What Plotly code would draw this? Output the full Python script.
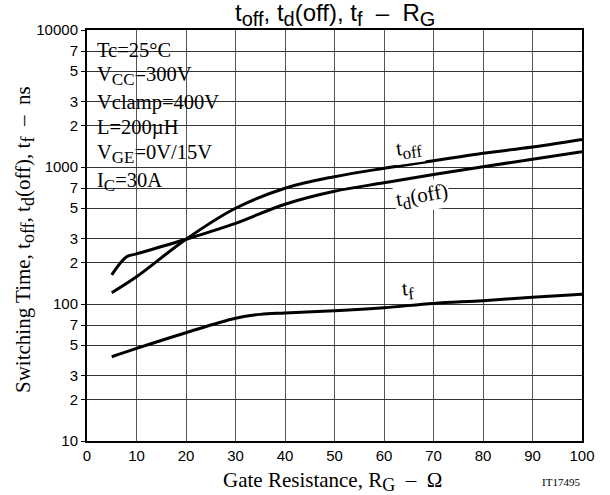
import plotly.graph_objects as go

# ---------------- data ----------------
rg_toff = [5, 10, 20, 30, 40, 50, 60, 70, 80, 90, 100]
toff = [121, 158, 297, 500, 700, 850, 979, 1111, 1260, 1400, 1590]

rg_tdoff = [5, 8, 10, 20, 30, 40, 50, 60, 70, 80, 90, 100]
tdoff = [163, 221, 232, 297, 388, 535, 665, 767, 883, 1005, 1140, 1290]

rg_tf = [5, 10, 20, 30, 35, 40, 50, 60, 70, 80, 90, 100]
tf = [41.2, 47.4, 61.7, 78.6, 84, 86, 89.3, 94, 101, 105.7, 112, 118]

x_ticks = [0, 10, 20, 30, 40, 50, 60, 70, 80, 90, 100]
y_tickvals = [10, 20, 30, 50, 70, 100, 200, 300, 500, 700,
              1000, 2000, 3000, 5000, 7000, 10000]
y_ticktext = ["10", "2", "3", "5", "7", "100", "2", "3", "5", "7",
              "1000", "2", "3", "5", "7", "10000"]


def sub(t, size):
    return f"<sub><span style='font-size:{size}px'>{t}</span></sub>"


conditions = ["Tc=25°C", "V" + sub("CC", 17) + "=300V", "Vclamp=400V", "L=200µH",
              "V" + sub("GE", 17) + "=0V/15V", "I" + sub("C", 17) + "=30A"]

# ---------------- layout helpers ----------------
W, H = 610, 495
L, R, T, B = 87, 582, 30, 441


def px(x):
    return (x - L) / (R - L)


def py(y):
    return (B - y) / (B - T)


SERIF = "Liberation Serif, Times New Roman, serif"
SANS = "Liberation Sans, Arial, sans-serif"

fig = go.Figure()
line = dict(color="black", width=3)
fig.add_trace(go.Scatter(x=rg_toff, y=toff, mode="lines", line=line, line_shape="spline"))
fig.add_trace(go.Scatter(x=rg_tdoff, y=tdoff, mode="lines", line=line, line_shape="spline"))
fig.add_trace(go.Scatter(x=rg_tf, y=tf, mode="lines", line=line, line_shape="spline"))

fig.update_xaxes(range=[0, 100], tickvals=x_ticks, showgrid=True, gridcolor="#555",
                 gridwidth=1, showline=True, linecolor="black", linewidth=2, mirror=True,
                 zeroline=False, ticks="", ticklen=0,
                 tickfont=dict(family=SANS, size=15, color="black"))
fig.update_yaxes(type="log", range=[1, 4], tickvals=y_tickvals, ticktext=y_ticktext,
                 showgrid=True, gridcolor="#333", gridwidth=1, showline=True,
                 linecolor="black", linewidth=2, mirror=True, zeroline=False, ticks="outside",
                 ticklen=4, tickcolor="black",
                 tickfont=dict(family=SANS, size=15, color="black"))

shapes = [
    dict(type="rect", xref="paper", yref="paper", x0=px(L + 1), x1=px(232), y0=py(165),
         y1=py(T + 1), fillcolor="white", line=dict(width=0), layer="between"),
    dict(type="rect", xref="paper", yref="paper", x0=px(L + 1), x1=px(185), y0=py(200),
         y1=py(165), fillcolor="white", line=dict(width=0), layer="between"),
]


def note(text, x, y, size=20, family=SERIF, xanchor="center", angle=0, bg=None):
    d = dict(text=text, x=px(x), y=py(y), xref="paper", yref="paper",
             xanchor=xanchor, yanchor="middle", showarrow=False, textangle=angle,
             font=dict(family=family, size=size, color="black"))
    if bg:
        d["bgcolor"] = bg
    return d


ann = []
ann.append(note("t" + sub("off", 20) + ", t" + sub("d", 20) + "(off), t" + sub("f", 20)
                + "  –  R" + sub("G", 20), 335, 14, size=24, family=SANS))
ann.append(note("Switching Time, t" + sub("off", 18) + ", t" + sub("d", 18) + "(off), t"
                + sub("f", 18) + "  –  ns", 24, 240, size=21, angle=-90))
ann.append(note("Gate Resistance, R" + sub("G", 18) + "  –  Ω", 332, 481, size=21))
ann.append(note("IT17495", 561, 482, size=11))
cond_y = [50, 76, 102, 127, 154, 182]
for t, yy in zip(conditions, cond_y):
    ann.append(note(t, 95, yy, size=20.5, xanchor="left"))
ann.append(note("t" + sub("off", 17), 409, 148, size=21, angle=-8, bg="white"))
ann.append(note("t" + sub("d", 17) + "(off)", 422, 197, size=21, angle=-10, bg="white"))
ann.append(note("t" + sub("f", 17), 408, 289, size=21, angle=-5))

fig.update_layout(width=W, height=H, margin=dict(l=L, r=W - R, t=T, b=H - B),
                  paper_bgcolor="white", plot_bgcolor="white", showlegend=False,
                  shapes=shapes, annotations=ann)

fig.write_html("out.html")
